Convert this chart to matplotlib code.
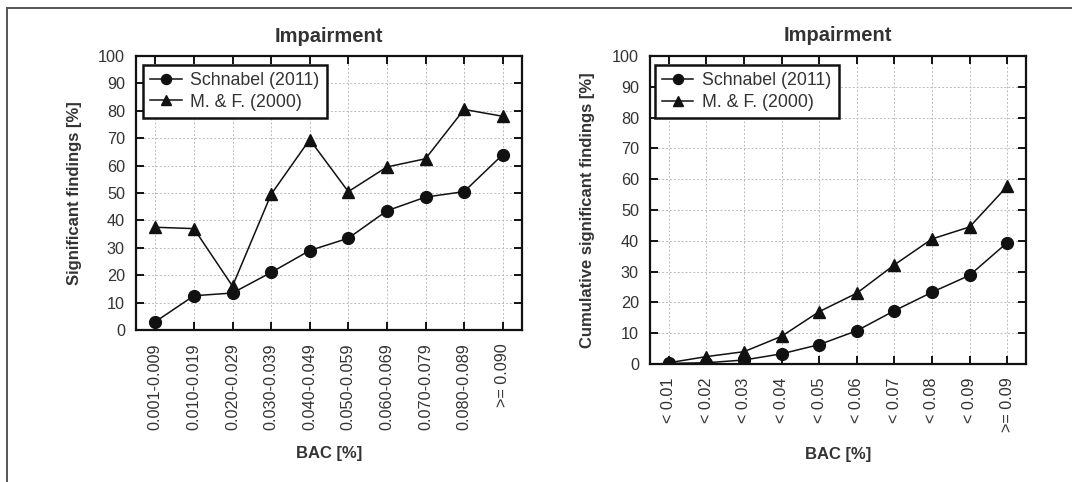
import numpy as np
import matplotlib
matplotlib.use('Agg')
import matplotlib.pyplot as plt
from matplotlib.lines import Line2D

plt.rcParams['font.family'] = ['Liberation Sans', 'DejaVu Sans']

# data
bins_left = ['0.001-0.009', '0.010-0.019', '0.020-0.029', '0.030-0.039', '0.040-0.049',
             '0.050-0.059', '0.060-0.069', '0.070-0.079', '0.080-0.089', '>= 0.090']
schnabel_left = [3, 12.5, 13.5, 21, 29, 33.5, 43.5, 48.5, 50.5, 64]
mf_left = [37.5, 37, 16, 49.5, 69.5, 50.5, 59.5, 62.5, 80.5, 78]

bins_right = ['< 0.01', '< 0.02', '< 0.03', '< 0.04', '< 0.05',
              '< 0.06', '< 0.07', '< 0.08', '< 0.09', '>= 0.09']
schnabel_right = [0.2, 0.4, 1.3, 3.3, 6.3, 10.8, 17.3, 23.3, 28.8, 39.4]
mf_right = [0.4, 2.4, 4.0, 9.0, 17.0, 23.0, 32.2, 40.6, 44.5, 57.7]

labels = ['Schnabel (2011)', 'M. & F. (2000)']
TXT = '#333333'


def panel(ax, cats, s1, s2, ylabel, title_pad, xlab_y, ylab_x, leg_anchor):
    x = np.arange(len(cats))
    ax.plot(x, s1, color='#111111', lw=1.1, marker='o', ms=8.5, label=labels[0], zorder=3)
    ax.plot(x, s2, color='#111111', lw=1.1, marker='^', ms=8, label=labels[1], zorder=3)
    ax.set_xlim(-0.5, len(cats) - 0.5)
    ax.set_ylim(0, 100)
    ax.set_yticks(np.arange(0, 101, 10))
    ax.set_xticks(x)
    ax.set_xticklabels(cats, rotation=90)
    ax.grid(True, color='#bbbbbb', lw=0.7, ls=(0, (2, 2)))
    ax.set_axisbelow(True)
    for sp in ax.spines.values():
        sp.set_linewidth(1.6)
        sp.set_color('#111111')
    ax.tick_params(direction='in', top=True, right=True, length=6, width=1.4,
                   labelsize=11.7, labelcolor=TXT, color='#111111')
    ax.tick_params(axis='x', pad=9.5)
    ax.tick_params(axis='y', pad=8)
    ax.set_title('Impairment', fontsize=14.5, fontweight='bold', color=TXT, pad=title_pad)
    ax.set_xlabel('BAC [%]', fontsize=12, fontweight='bold', color=TXT)
    ax.set_ylabel(ylabel, fontsize=12, fontweight='bold', color=TXT)
    ax.xaxis.set_label_coords(0.5, xlab_y)
    ax.yaxis.set_label_coords(ylab_x, 0.5)
    leg = ax.legend(loc='upper left', bbox_to_anchor=leg_anchor, borderaxespad=0,
                    fontsize=12.8, fancybox=False, framealpha=1, edgecolor='#111111',
                    handlelength=1.75, labelspacing=0.25, borderpad=0.42, handletextpad=0.5,
                    markerscale=0.85)
    leg.get_frame().set_linewidth(1.8)
    for t in leg.get_texts():
        t.set_color(TXT)


fig = plt.figure(figsize=(10.72, 4.82), dpi=100)
ax1 = fig.add_axes([136 / 1072, 1 - 330 / 482, 386 / 1072, 274 / 482])
ax2 = fig.add_axes([650 / 1072, 1 - 364 / 482, 376 / 1072, 308 / 482])

panel(ax1, bins_left, schnabel_left, mf_left, 'Significant findings [%]', 10, -0.425, -0.14,
      (0.018, 0.968))
panel(ax2, bins_right, schnabel_right, mf_right, 'Cumulative significant findings [%]', 11, -0.27,
      -0.145, (0.013, 0.971))

# frame lines of the cropped figure
fig.add_artist(Line2D([7 / 1072, 7 / 1072], [0, 1 - 8 / 482], transform=fig.transFigure,
                      color='#555555', lw=1.4))
fig.add_artist(Line2D([7 / 1072, 1], [1 - 8 / 482, 1 - 8 / 482], transform=fig.transFigure,
                      color='#555555', lw=1.4))

fig.savefig('out.png', dpi=100)
